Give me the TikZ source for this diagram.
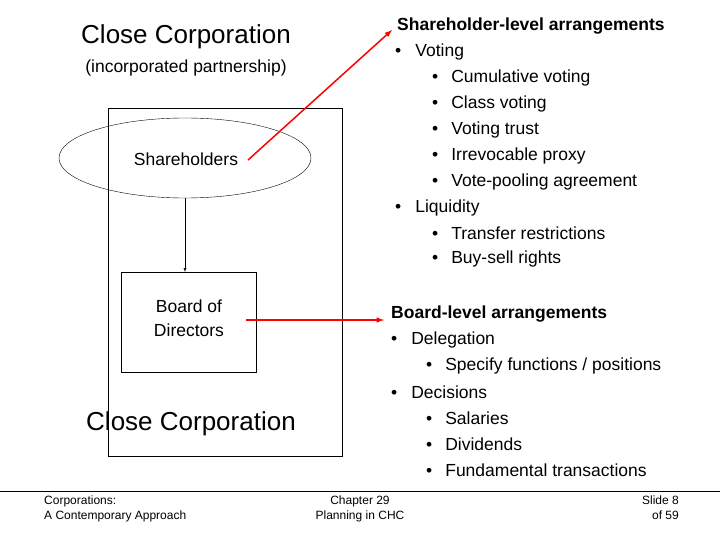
\documentclass[tikz,border=0pt]{standalone}
\usepackage{fontspec}
\setmainfont{Liberation Sans}
\usetikzlibrary{shapes.geometric}
\begin{document}
\begin{tikzpicture}[x=1pt,y=-1pt,
  txt/.style={anchor=west,inner sep=0pt,font=\fontsize{17.5}{20}\selectfont},
  hd/.style={txt,font=\fontsize{17.5}{20}\selectfont\bfseries},
  big/.style={inner sep=0pt,font=\fontsize{26}{30}\selectfont},
  foot/.style={inner sep=0pt,font=\fontsize{12}{15}\selectfont,align=center},
  redarrow/.style={draw=red,line width=1.5pt,-latex}]
\useasboundingbox (0,0) rectangle (720,540);
\node[big] (t1) at (186,37) {Close Corporation};
\node[inner sep=0pt,font=\fontsize{17.5}{20}\selectfont] (t2) at (186,68) {(incorporated partnership)};
\draw (108,108) rectangle (342,456);
\node[draw,ellipse,minimum width=252pt,minimum height=80pt,inner sep=0pt] (sh) at (185,158) {};
\node[inner sep=0pt,font=\fontsize{17.5}{20}\selectfont] (sht) at (186,159) {Shareholders};
\node[draw,minimum width=135pt,minimum height=100pt,inner sep=0pt,anchor=north] (bd) at (189,272) {};
\node[inner sep=0pt,align=center,font=\fontsize{17.5}{24}\selectfont] (bdt) at (189,318) {Board of\\Directors};
\coordinate (ab) at (sh.south);
\draw[-latex] (ab) -- (ab |- bd.north);
\node[big] (t3) at (191,424) {Close Corporation};
\node[hd] (h1) at (397,26) {Shareholder-level arrangements};
\node[txt] (a1) at (395,52) {\textbullet\hspace{14pt}Voting};
\node[txt] (a2) at (432,78) {\textbullet\hspace{13pt}Cumulative voting};
\node[txt] (a3) at (432,104) {\textbullet\hspace{13pt}Class voting};
\node[txt] (a4) at (432,130) {\textbullet\hspace{13pt}Voting trust};
\node[txt] (a5) at (432,156) {\textbullet\hspace{13pt}Irrevocable proxy};
\node[txt] (a6) at (432,182) {\textbullet\hspace{13pt}Vote-pooling agreement};
\node[txt] (a7) at (395,208) {\textbullet\hspace{14pt}Liquidity};
\node[txt] (a8) at (432,233) {\textbullet\hspace{13pt}Transfer restrictions};
\node[txt] (a9) at (432,259) {\textbullet\hspace{13pt}Buy-sell rights};
\node[hd] (h2) at (391,314) {Board-level arrangements};
\node[txt] (b1) at (391,340) {\textbullet\hspace{14pt}Delegation};
\node[txt] (b2) at (426,366) {\textbullet\hspace{13pt}Specify functions / positions};
\node[txt] (b3) at (391,392) {\textbullet\hspace{14pt}Decisions};
\node[txt] (b4) at (426,418) {\textbullet\hspace{13pt}Salaries};
\node[txt] (b5) at (426,444) {\textbullet\hspace{13pt}Dividends};
\node[txt] (b6) at (426,470) {\textbullet\hspace{13pt}Fundamental transactions};
\coordinate (s1) at (248,160);
\coordinate (e1) at (392,30);
\draw[redarrow] (s1) -- (e1);
\coordinate (s2) at (246,320);
\coordinate (e2) at (384,320);
\draw[redarrow] (s2) -- (e2);
\coordinate (l1) at (0,491);
\coordinate (l2) at (720,491);
\draw[line width=1pt] (l1) -- (l2);
\node[foot,align=left,anchor=north west] (f1) at (44,496) {Corporations:\\A Contemporary Approach};
\node[foot,anchor=north] (f2) at (360,496) {Chapter 29\\Planning in CHC};
\node[foot,align=right,anchor=north east] (f3) at (679,496) {Slide 8\\of 59};
\end{tikzpicture}
\end{document}
